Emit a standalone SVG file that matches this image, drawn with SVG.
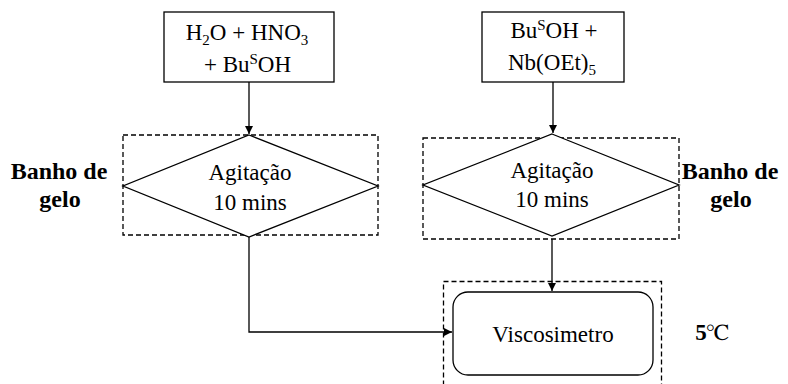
<svg xmlns="http://www.w3.org/2000/svg" width="788" height="384" viewBox="0 0 788 384">
  <defs>
    <marker id="arrow" viewBox="0 0 10 10" refX="10" refY="5" markerWidth="8" markerHeight="8" markerUnits="userSpaceOnUse" orient="auto">
      <path d="M0,0 L10,5 L0,10 Z" fill="#000"/>
    </marker>
    <style>
      .box { fill: #fff; stroke: #000; stroke-width: 1.3; }
      .dash { fill: none; stroke: #000; stroke-width: 1.3; stroke-dasharray: 5 3; }
      .edge { fill: none; stroke: #000; stroke-width: 1.3; marker-end: url(#arrow); }
      text { font-family: "Times New Roman", Tinos, "Nimbus Roman", FreeSerif, "Liberation Serif", serif; }
      .t { font-size: 23px; fill: #000; text-anchor: middle; }
      .b { font-size: 24px; font-weight: bold; fill: #000; text-anchor: middle; }
      .s { font-size: 15px; }
    </style>
  </defs>

  <!-- ice-bath and temperature enclosures -->
  <g id="bath-left">
    <rect class="dash" x="123" y="135" width="255" height="100"/>
  </g>
  <g id="bath-right">
    <rect class="dash" x="423" y="138" width="256" height="101"/>
  </g>
  <g id="temp-zone">
    <rect class="dash" x="443.5" y="281.5" width="218" height="110"/>
  </g>

  <!-- reagent boxes -->
  <g id="reagents-acid">
    <rect class="box" x="164" y="12" width="170" height="70"/>
    <text class="t" x="247" y="40">H<tspan class="s" dy="5">2</tspan><tspan dy="-5">O + HNO</tspan><tspan class="s" dy="5">3</tspan></text>
    <text class="t" x="247.5" y="72">+ Bu<tspan class="s" dy="-8">S</tspan><tspan dy="8">OH</tspan></text>
  </g>
  <g id="reagents-alkoxide">
    <rect class="box" x="482" y="12" width="142" height="70"/>
    <text class="t" x="554" y="38">Bu<tspan class="s" dy="-8">S</tspan><tspan dy="8">OH +</tspan></text>
    <text class="t" x="552" y="70">Nb(OEt)<tspan class="s" dy="5">5</tspan></text>
  </g>

  <!-- stirring steps -->
  <g id="stir-left">
    <polygon class="box" points="249,135 378,186 249,237 123,186"/>
    <text class="t" x="250" y="180">Agitação</text>
    <text class="t" x="250" y="210">10 mins</text>
  </g>
  <g id="stir-right">
    <polygon class="box" points="552,134 679,185 552,236 423,185"/>
    <text class="t" x="552" y="178">Agitação</text>
    <text class="t" x="552" y="207">10 mins</text>
  </g>

  <!-- viscometer -->
  <g id="viscometer">
    <rect class="box" x="453" y="292" width="200" height="83" rx="15" ry="15"/>
    <text class="t" x="553" y="342">Viscosimetro</text>
  </g>

  <!-- side labels -->
  <g id="label-bath-left">
    <text class="b" x="59" y="179">Banho de</text>
    <text class="b" x="60" y="207">gelo</text>
  </g>
  <g id="label-bath-right">
    <text class="b" x="730" y="179">Banho de</text>
    <text class="b" x="731" y="207">gelo</text>
  </g>
  <g id="label-temp">
    <text class="t" x="712" y="340"><tspan font-weight="bold">5</tspan>℃</text>
  </g>

  <!-- connectors -->
  <g id="connectors">
    <path class="edge" d="M249,82 V134"/>
    <path class="edge" d="M553,82 V133"/>
    <path class="edge" d="M249,237 V332 H452"/>
    <path class="edge" d="M552,239 V291"/>
  </g>
</svg>
